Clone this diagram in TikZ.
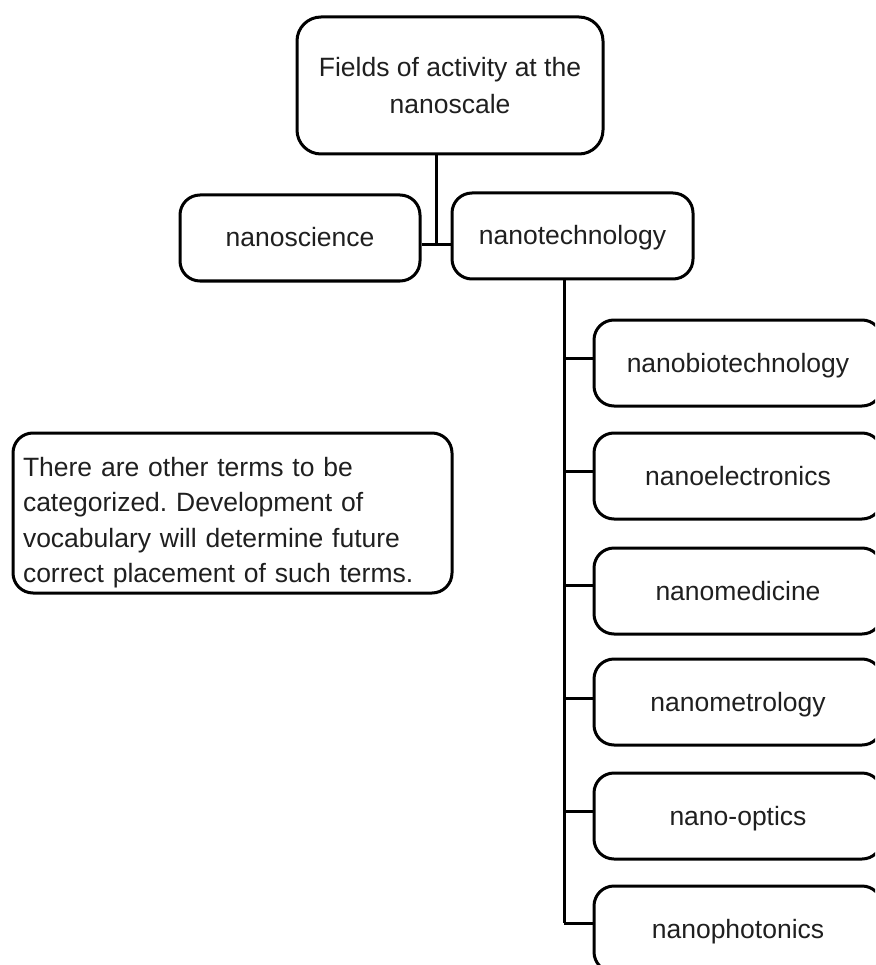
\documentclass[tikz,border=0pt]{standalone}
\usepackage{fontspec}
\setmainfont{Liberation Sans}
\frenchspacing
\begin{document}
\begin{tikzpicture}[x=1pt,y=-1pt,
  box/.style={draw=black, line width=3pt, rounded corners=20pt, align=center,
    inner sep=0pt, font=\fontsize{26.5}{37}\selectfont, text=black!88},
  link/.style={draw=black, line width=3pt},
  single/.style={box, text height=20pt, text depth=2pt, minimum height=86pt},
  leaf/.style={single, minimum width=288pt}]
% page frame and crop
\useasboundingbox (0,0) rectangle (875,965);
\clip (0,0) rectangle (875,965);

% root and first level
\node[box, rounded corners=24pt, minimum width=306pt, minimum height=137pt]
  (root) at (450,85.5) {Fields of activity at the\\nanoscale};
\node[single, minimum width=240pt] (sci) at (300,238) {nanoscience};
\node[single, minimum width=241pt] (tech) at (572.5,236) {nanotechnology};

% note box
\node[box, align=left, minimum width=439pt, minimum height=160pt, text width=419pt,
  font=\fontsize{26.5}{35.5}\selectfont]
  (note) at (232.5,513) {\rule{0pt}{38pt}There are other terms to be\\categorized. Development of\\vocabulary will determine future\\correct placement of such terms.};

% nanotechnology subfields
\node[leaf] (bio)   at (738,363) {nanobiotechnology};
\node[leaf] (elec)  at (738,476) {nanoelectronics};
\node[leaf] (med)   at (738,591) {nanomedicine};
\node[leaf] (metro) at (738,702) {nanometrology};
\node[leaf] (optic) at (738,816) {nano-optics};
\node[leaf] (phot)  at (738,929) {nanophotonics};

% root to first level
\coordinate (j) at (436,245);
\draw[link] (j |- root.south) -- (j);
\draw[link] (sci.east |- j) -- (tech.west |- j);

% trunk and branches
\coordinate (t) at (564,923);
\draw[link] (t |- tech.south) -- (t);
\foreach \n/\y in {bio/358, elec/471, med/585, metro/698, optic/811, phot/923}
  \draw[link] (564,\y) -- (\n.west |- 0,\y);
\end{tikzpicture}
\end{document}
